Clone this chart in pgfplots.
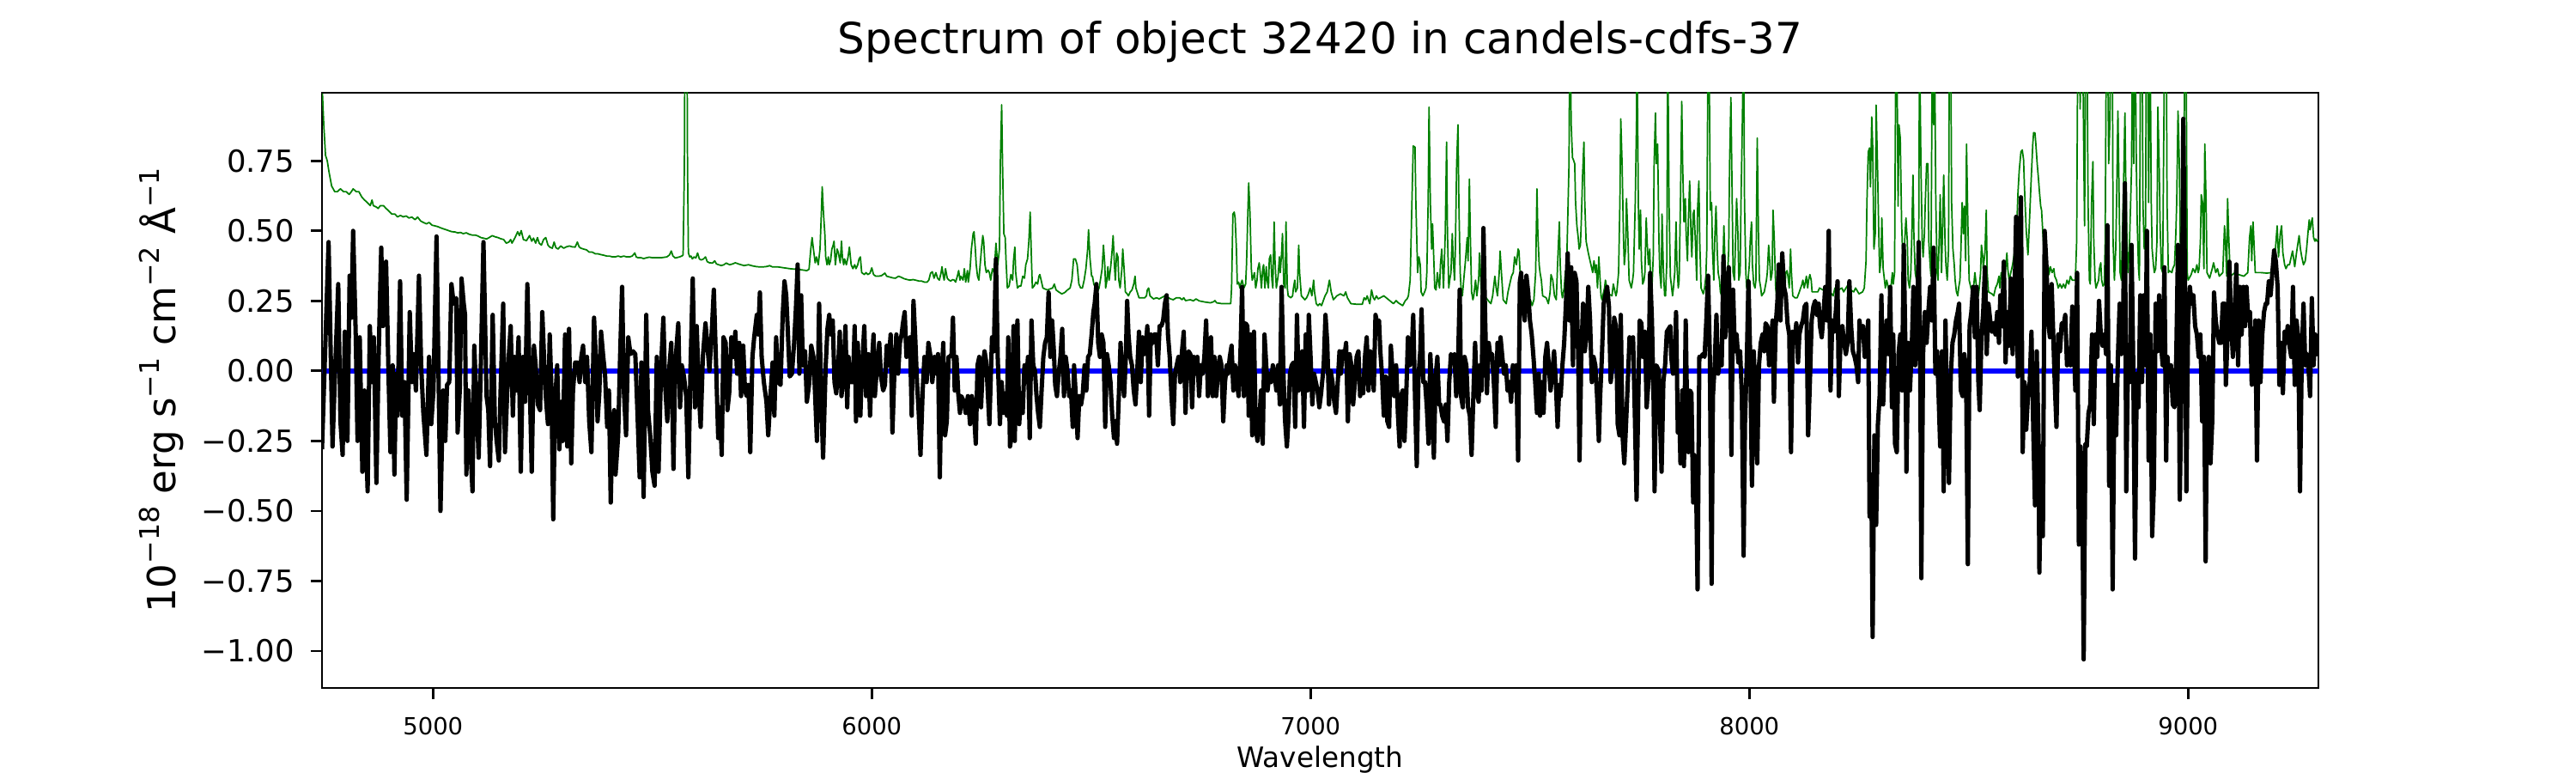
\documentclass[border=0pt]{standalone}
\usepackage{fontspec}
\setmainfont{DejaVu Sans}
\usepackage{pgfplots}
\pgfplotsset{compat=1.18}
\definecolor{mplgreen}{rgb}{0,0.5,0}
\definecolor{mplblue}{rgb}{0,0,1}
\newcommand{\su}[1]{\raisebox{0.42em}{\fontsize{9.1bp}{9.1bp}\selectfont #1}}
\begin{document}
\begin{tikzpicture}
\path[use as bounding box] (-108bp,-28.512bp) rectangle (756bp,230.688bp);
\begin{axis}[
  at={(0,0)}, anchor=south west,
  scale only axis, width=669.6bp, height=199.584bp,
  xmin=4747, xmax=9297, ymin=-1.132, ymax=0.993,
  axis line style={line width=0.8bp},
  every tick/.style={black, line width=0.8bp},
  tick align=outside, major tick length=3.8bp,
  xtick pos=bottom, ytick pos=left,
  xtick={5000,6000,7000,8000,9000},
  xticklabels={5000,6000,7000,8000,9000},
  ytick={-1,-0.75,-0.5,-0.25,0,0.25,0.5,0.75},
  yticklabels={−1.00,−0.75,−0.50,−0.25,0.00,0.25,0.50,0.75},
  xticklabel style={font=\fontsize{7.9bp}{9bp}\selectfont, inner sep=0pt, anchor=north},
  yticklabel style={font=\fontsize{10.2bp}{12bp}\selectfont, inner sep=0pt, anchor=east},
  xticklabel shift=5.7bp, yticklabel shift=5.2bp,
  title={Spectrum of object 32420 in candels-cdfs-37},
  title style={at={(axis description cs:0.5,1.0361)}, anchor=base, font=\fontsize{14.4bp}{16bp}\selectfont, inner sep=0pt},
  xlabel={Wavelength},
  xlabel style={at={(axis description cs:0.5,-0.1328)}, anchor=base, font=\fontsize{9.4bp}{11bp}\selectfont, inner sep=0pt},
  ylabel={10\su{−18} erg s\su{−1} cm\su{−2} Å\su{−1}},
  ylabel style={at={(axis description cs:-0.0735,0.5)}, anchor=base, font=\fontsize{13bp}{15bp}\selectfont, inner sep=0pt},
]
% error / sky spectrum (green)
\addplot[mplgreen, line width=0.5bp, line join=round] coordinates {
(4748,0.99) (4751,0.88) (4755,0.77) (4759,0.75) (4763,0.71) (4769,0.66) (4776,0.64) (4782,0.64) (4789,0.65) (4796,0.64) (4802,0.64) (4809,0.63) (4814,0.64) (4818,0.65) (4825,0.64) (4831,0.64) (4838,0.62) (4844,0.61) (4851,0.60) (4857,0.59) (4861,0.61) (4864,0.59) (4871,0.585) (4875,0.58) (4880,0.59) (4887,0.59) (4893,0.58) (4900,0.57) (4906,0.56) (4913,0.56) (4919,0.55) (4926,0.555) (4932,0.55) (4939,0.553) (4945,0.546) (4952,0.549) (4959,0.54) (4965,0.549) (4972,0.535) (4978,0.53) (4985,0.525) (4991,0.53) (4998,0.52) (5004,0.518) (5011,0.515) (5017,0.511) (5024,0.507) (5030,0.504) (5037,0.50) (5043,0.497) (5050,0.496) (5056,0.493) (5063,0.494) (5069,0.49) (5076,0.493) (5082,0.488) (5089,0.485) (5096,0.485) (5102,0.482) (5109,0.476) (5115,0.474) (5122,0.471) (5128,0.476) (5135,0.483) (5141,0.479) (5148,0.476) (5154,0.472) (5161,0.469) (5167,0.456) (5173,0.46) (5177,0.469) (5180,0.456) (5187,0.476) (5193,0.497) (5197,0.483) (5201,0.501) (5206,0.469) (5213,0.465) (5220,0.483) (5225,0.463) (5229,0.474) (5234,0.456) (5238,0.476) (5242,0.456) (5247,0.449) (5252,0.469) (5257,0.476) (5262,0.449) (5266,0.442) (5272,0.438) (5276,0.46) (5280,0.44) (5285,0.435) (5291,0.446) (5298,0.438) (5304,0.443) (5311,0.446) (5317,0.443) (5324,0.442) (5329,0.46) (5333,0.443) (5337,0.438) (5343,0.435) (5350,0.432) (5356,0.424) (5363,0.424) (5370,0.418) (5376,0.418) (5383,0.415) (5389,0.413) (5396,0.41) (5402,0.41) (5409,0.407) (5415,0.407) (5422,0.41) (5428,0.407) (5435,0.41) (5441,0.407) (5448,0.407) (5454,0.41) (5460,0.421) (5463,0.407) (5467,0.404) (5474,0.404) (5480,0.401) (5487,0.404) (5493,0.406) (5500,0.404)
(5520,0.404) (5533,0.407) (5539,0.414) (5543,0.428) (5547,0.41) (5552,0.403) (5562,0.407) (5568,0.411) (5570,0.414) (5573,0.74) (5575,1.6) (5578,1.6) (5580,0.74) (5582,0.421) (5585,0.407) (5588,0.41) (5591,0.40) (5595,0.407) (5599,0.403) (5603,0.421) (5607,0.40) (5611,0.396) (5616,0.399) (5621,0.407) (5625,0.39) (5630,0.386) (5637,0.385) (5642,0.393) (5646,0.382) (5651,0.379) (5657,0.376) (5663,0.379) (5668,0.385) (5676,0.379) (5683,0.382) (5689,0.386) (5696,0.382) (5702,0.379) (5709,0.376) (5719,0.379) (5728,0.375) (5738,0.372) (5748,0.371) (5758,0.372) (5764,0.374) (5767,0.376) (5774,0.371) (5787,0.371) (5800,0.368) (5813,0.365) (5826,0.363) (5839,0.361) (5852,0.358) (5857,0.363) (5861,0.435) (5864,0.476) (5867,0.435) (5871,0.386) (5874,0.407) (5878,0.379) (5882,0.435) (5885,0.56) (5887,0.657) (5890,0.56) (5893,0.49) (5895,0.407) (5898,0.379) (5901,0.407) (5903,0.379) (5906,0.393) (5909,0.435) (5912,0.449) (5914,0.463) (5917,0.379) (5921,0.435) (5924,0.421) (5928,0.386) (5931,0.463) (5933,0.407) (5936,0.379) (5938,0.40) (5942,0.379) (5946,0.407) (5949,0.442) (5953,0.379) (5957,0.365) (5961,0.379) (5964,0.365) (5968,0.379) (5971,0.40) (5974,0.407) (5977,0.351) (5983,0.344) (5987,0.351) (5991,0.344) (5996,0.349) (6000,0.368) (6004,0.344) (6009,0.338) (6015,0.338) (6022,0.34) (6030,0.349) (6034,0.338) (6041,0.335) (6048,0.332) (6054,0.331) (6061,0.338) (6066,0.335) (6074,0.329) (6081,0.326) (6087,0.324) (6094,0.326) (6100,0.324) (6107,0.321) (6113,0.321) (6120,0.317) (6126,0.317) (6130,0.324) (6134,0.349) (6138,0.354) (6142,0.331) (6146,0.351) (6150,0.331) (6154,0.324) (6158,0.351) (6160,0.372) (6163,0.338) (6165,0.324) (6168,0.365) (6172,0.331) (6176,0.324) (6180,0.321) (6184,0.326) (6188,0.324) (6191,0.317) (6195,0.338) (6198,0.358) (6201,0.324) (6203,0.338) (6206,0.331) (6208,0.324) (6211,0.365) (6214,0.317) (6218,0.358) (6220,0.317) (6224,0.365) (6227,0.435) (6231,0.49) (6233,0.497) (6236,0.435) (6238,0.379) (6241,0.338) (6244,0.324) (6247,0.379) (6250,0.435) (6253,0.483) (6255,0.463) (6258,0.379) (6261,0.351)
(6265,0.36) (6268,0.351) (6271,0.324) (6275,0.365) (6279,0.351) (6283,0.456) (6287,0.379) (6291,0.435) (6293,0.74) (6296,0.95) (6298,0.74) (6301,0.49) (6304,0.476) (6306,0.393) (6309,0.296) (6313,0.303) (6317,0.344) (6321,0.324) (6323,0.393) (6326,0.442) (6328,0.351) (6332,0.296) (6336,0.303) (6340,0.303) (6344,0.338) (6348,0.331) (6351,0.379) (6355,0.40) (6358,0.463) (6361,0.567) (6364,0.393) (6366,0.296) (6370,0.303) (6374,0.317) (6378,0.31) (6381,0.338) (6383,0.344) (6386,0.324) (6390,0.296) (6394,0.293) (6400,0.289) (6407,0.293) (6412,0.296) (6416,0.31) (6420,0.289) (6426,0.282) (6433,0.275) (6439,0.279) (6446,0.289) (6452,0.296) (6456,0.324) (6460,0.40) (6464,0.40) (6468,0.379) (6472,0.31) (6476,0.296) (6480,0.296) (6484,0.324) (6488,0.365) (6492,0.435) (6494,0.504) (6497,0.407) (6501,0.338) (6503,0.338) (6506,0.31) (6510,0.296) (6514,0.282) (6518,0.296) (6521,0.324) (6525,0.365) (6528,0.449) (6531,0.379) (6533,0.296) (6536,0.324) (6538,0.372) (6541,0.324) (6545,0.379) (6548,0.435) (6550,0.483) (6553,0.379) (6555,0.324) (6558,0.421) (6561,0.407) (6563,0.324) (6566,0.296) (6570,0.365) (6572,0.435) (6575,0.365) (6578,0.282) (6582,0.275) (6585,0.268) (6589,0.282) (6593,0.289) (6597,0.31) (6600,0.338) (6602,0.296) (6609,0.261) (6615,0.261) (6622,0.261) (6626,0.268) (6628,0.289) (6631,0.296) (6634,0.268) (6642,0.257) (6649,0.261) (6655,0.257) (6668,0.268) (6681,0.257) (6687,0.254) (6694,0.261) (6702,0.261) (6707,0.254) (6711,0.261) (6715,0.251) (6726,0.254) (6733,0.25) (6739,0.257) (6746,0.25) (6759,0.246) (6772,0.243) (6779,0.247) (6782,0.251) (6786,0.243) (6798,0.24) (6818,0.24) (6820,0.296) (6823,0.56) (6826,0.567) (6828,0.546) (6831,0.435) (6833,0.31) (6836,0.317) (6839,0.296) (6841,0.31) (6844,0.324) (6848,0.296) (6852,0.31) (6854,0.379) (6857,0.56) (6859,0.671) (6862,0.56) (6865,0.365) (6867,0.324) (6870,0.338) (6872,0.351) (6875,0.296) (6878,0.324) (6880,0.365) (6883,0.386) (6886,0.338) (6888,0.296) (6891,0.365) (6893,0.379) (6896,0.296) (6899,0.372) (6901,0.324) (6904,0.296) (6906,0.40) (6909,0.414) (6912,0.324) (6914,0.296) (6917,0.532) (6919,0.393) (6922,0.296) (6926,0.338) (6929,0.407) (6931,0.351) (6934,0.421) (6936,0.49) (6939,0.31) (6942,0.296) (6944,0.532) (6947,0.296) (6949,0.268) (6955,0.261) (6959,0.268) (6961,0.296) (6964,0.324) (6966,0.282) (6970,0.296) (6973,0.449) (6975,0.351) (6979,0.268) (6983,0.261) (6987,0.254) (6991,0.261) (6995,0.275) (6999,0.296) (7003,0.268) (7007,0.324) (7009,0.282) (7013,0.24) (7017,0.233) (7021,0.24) (7025,0.233)
(7033,0.268) (7038,0.282) (7043,0.324) (7047,0.282) (7052,0.254) (7060,0.268) (7068,0.275) (7076,0.268) (7080,0.282) (7084,0.261) (7092,0.24) (7105,0.238) (7118,0.238) (7122,0.261) (7126,0.254) (7129,0.268) (7135,0.24) (7139,0.289) (7143,0.261) (7146,0.254) (7150,0.268) (7154,0.257) (7167,0.268) (7178,0.254) (7189,0.24) (7195,0.251) (7200,0.243) (7210,0.233) (7216,0.251) (7220,0.257) (7223,0.268) (7227,0.324) (7231,0.601) (7234,0.803) (7238,0.799) (7240,0.601) (7244,0.351) (7247,0.407) (7250,0.379) (7252,0.282) (7256,0.268) (7260,0.282) (7263,0.296) (7265,0.351) (7268,0.601) (7270,0.942) (7273,0.601) (7276,0.435) (7278,0.525) (7281,0.393) (7283,0.296) (7286,0.289) (7289,0.351) (7291,0.324) (7294,0.296) (7296,0.379) (7299,0.435) (7303,0.296) (7307,0.49) (7310,0.817) (7312,0.49) (7315,0.296) (7317,0.324) (7320,0.351) (7323,0.49) (7325,0.407) (7328,0.324) (7330,0.435) (7333,0.74) (7336,0.879) (7338,0.601) (7341,0.351) (7343,0.296) (7346,0.268) (7349,0.324) (7353,0.393) (7357,0.476) (7359,0.393) (7362,0.685) (7364,0.49) (7367,0.282) (7370,0.254) (7372,0.268) (7376,0.324) (7379,0.268) (7383,0.324) (7385,0.421) (7388,0.324) (7390,0.268) (7393,0.24) (7400,0.261) (7407,0.247) (7411,0.24) (7415,0.268) (7418,0.31) (7420,0.338) (7423,0.296) (7426,0.268) (7430,0.351) (7432,0.428) (7435,0.351) (7439,0.254) (7446,0.24) (7450,0.282) (7454,0.31) (7458,0.338) (7462,0.351) (7465,0.407) (7469,0.379) (7473,0.435) (7475,0.428) (7478,0.338) (7482,0.296) (7486,0.24) (7493,0.233) (7501,0.254) (7505,0.233) (7509,0.254) (7513,0.351) (7516,0.65) (7518,0.49) (7521,0.379) (7523,0.351) (7526,0.324) (7529,0.268) (7537,0.261) (7542,0.24) (7546,0.282) (7548,0.344) (7552,0.324) (7556,0.268) (7560,0.254) (7564,0.421) (7567,0.532) (7569,0.379) (7572,0.282) (7574,0.261) (7578,0.296) (7581,0.358) (7583,0.338) (7586,0.532) (7589,0.74) (7591,1.3) (7594,0.879) (7597,0.761) (7599,0.754) (7602,0.74) (7604,0.601) (7607,0.518) (7610,0.476) (7612,0.435) (7615,0.449) (7617,0.532) (7620,0.699) (7623,0.817) (7625,0.601) (7628,0.463) (7633,0.421) (7638,0.386) (7643,0.351) (7646,0.393) (7649,0.351) (7651,0.379) (7654,0.296) (7657,0.407) (7659,0.351) (7662,0.268) (7664,0.254) (7670,0.296) (7672,0.324) (7675,0.296) (7679,0.275) (7687,0.268) (7690,0.31) (7693,0.289) (7696,0.268) (7698,0.282) (7702,0.351) (7705,0.601) (7707,0.90) (7710,0.74) (7713,0.49) (7715,0.379) (7718,0.435) (7720,0.615) (7723,0.49) (7726,0.324) (7731,0.296) (7734,0.324) (7736,0.351) (7740,0.601) (7743,0.907) (7744,1.2) (7747,0.601) (7749,0.435) (7752,0.574) (7754,0.393) (7757,0.31) (7760,0.324) (7762,0.351) (7765,0.546) (7767,0.463) (7770,0.379) (7773,0.435) (7775,0.324) (7778,0.296) (7781,0.407) (7783,0.74) (7786,0.921) (7788,0.74)
(7791,0.81) (7794,0.463) (7796,0.351) (7799,0.296) (7801,0.56) (7804,0.365) (7807,0.268) (7809,0.268) (7812,0.393) (7814,1.2) (7817,0.601) (7820,0.338) (7825,0.268) (7827,0.296) (7830,0.351) (7833,0.532) (7835,0.379) (7838,0.296) (7840,0.324) (7843,0.601) (7846,0.962) (7848,0.74) (7851,0.532) (7854,0.615) (7856,0.49) (7859,0.393) (7861,0.532) (7864,0.678) (7867,0.49) (7869,0.407) (7872,0.56) (7874,0.574) (7877,0.463) (7880,0.324) (7882,0.574) (7885,0.678) (7887,0.463) (7890,0.296) (7895,0.275) (7898,0.296) (7901,0.338) (7903,0.435) (7906,1.2) (7908,1.2) (7911,0.574) (7914,0.601) (7916,0.435) (7919,0.324) (7921,0.463) (7924,0.588) (7927,0.421) (7929,0.351) (7932,0.324) (7934,0.282) (7937,0.268) (7940,0.379) (7942,0.518) (7945,0.365) (7947,0.296) (7950,0.324) (7953,0.435) (7955,0.74) (7958,0.976) (7961,0.601) (7963,0.351) (7966,0.324) (7968,0.435) (7971,0.615) (7974,0.49) (7976,0.324) (7979,0.351) (7981,0.601) (7984,0.879) (7987,1.2) (7989,0.601) (7992,0.351) (7994,0.296) (7997,0.324) (8000,0.379) (8002,0.463) (8005,0.532) (8007,0.379) (8010,0.31) (8013,0.296) (8015,0.324) (8018,0.831) (8021,0.463) (8023,0.324) (8026,0.296) (8028,0.268) (8034,0.282) (8039,0.324) (8041,0.351) (8044,0.449) (8047,0.379) (8049,0.324) (8052,0.351) (8054,0.574) (8057,0.463) (8060,0.296) (8062,0.268) (8065,0.261) (8067,0.282) (8070,0.324) (8073,0.338) (8075,0.407) (8078,0.324) (8081,0.282) (8083,0.351) (8086,0.358) (8088,0.338) (8091,0.296) (8094,0.435) (8096,0.351) (8099,0.268) (8104,0.261) (8109,0.261) (8114,0.282) (8120,0.31) (8122,0.324) (8125,0.296) (8127,0.31) (8130,0.338) (8133,0.296) (8135,0.324) (8138,0.344) (8141,0.324) (8143,0.282) (8148,0.282) (8156,0.282) (8160,0.296) (8168,0.289) (8176,0.275) (8180,0.296) (8184,0.282) (8191,0.268) (8195,0.296) (8203,0.289) (8211,0.296) (8215,0.282) (8223,0.303) (8231,0.289) (8238,0.282) (8242,0.296) (8250,0.275) (8258,0.282) (8262,0.296) (8266,0.393) (8268,0.601) (8271,0.782) (8274,0.796) (8276,0.657) (8279,0.907) (8281,0.81) (8284,0.435) (8287,0.49) (8289,0.949) (8292,0.74) (8295,0.49) (8297,0.351) (8300,0.393) (8302,0.546) (8305,0.365) (8308,0.324) (8310,0.296) (8313,0.324) (8318,0.289) (8321,0.282) (8323,0.303) (8326,0.351) (8328,0.31) (8331,0.351) (8334,1.2) (8336,1.2) (8339,0.588) (8341,0.879) (8344,0.831) (8347,0.532) (8349,0.435) (8352,0.324) (8354,0.463) (8357,0.546) (8360,0.463) (8362,0.324) (8365,0.296) (8368,0.351) (8370,0.463) (8373,0.699) (8375,0.49) (8378,0.351) (8381,0.324) (8383,0.379) (8386,0.463) (8388,1.2) (8391,0.74) (8394,0.463) (8396,0.407) (8399,0.49) (8401,0.601) (8404,0.74) (8407,0.74) (8409,0.463) (8412,0.379) (8414,0.338) (8417,1.2) (8420,0.879) (8422,1.2) (8425,0.601) (8428,0.351) (8430,0.324) (8433,0.49) (8435,0.629) (8438,0.351) (8441,0.546) (8443,0.699) (8446,0.463) (8448,0.379) (8451,0.324) (8454,0.435) (8456,1.2) (8459,1.2) (8461,0.601) (8464,0.435) (8467,0.379) (8469,0.324) (8472,0.282) (8475,0.268) (8477,0.296) (8480,0.324) (8482,0.421) (8485,0.601) (8488,0.49) (8490,0.588) (8493,0.393) (8495,0.81) (8498,0.532) (8501,0.324) (8506,0.289) (8511,0.296) (8514,0.351) (8516,0.324) (8519,0.282) (8522,0.268) (8524,0.296) (8527,0.351) (8529,0.449) (8532,0.407)
(8533,0.365) (8537,0.421) (8540,0.574) (8542,0.351) (8545,0.282) (8553,0.275) (8557,0.268) (8561,0.296) (8565,0.31) (8569,0.338) (8571,0.296) (8574,0.351) (8576,0.338) (8580,0.296) (8584,0.365) (8587,0.421) (8589,0.365) (8592,0.324) (8596,0.351) (8600,0.379) (8604,0.421) (8606,0.435) (8609,0.49) (8612,0.629) (8615,0.713) (8619,0.782) (8622,0.789) (8625,0.754) (8627,0.657) (8631,0.504) (8635,0.414) (8638,0.518) (8642,0.671) (8646,0.81) (8648,0.851) (8651,0.849) (8653,0.81) (8656,0.74) (8659,0.685) (8661,0.643) (8664,0.588) (8666,0.574) (8669,0.49) (8672,0.407) (8674,0.365) (8677,0.351) (8681,0.372) (8683,0.344) (8686,0.372) (8690,0.351) (8694,0.365) (8696,0.338) (8700,0.324) (8704,0.296) (8708,0.31) (8712,0.296) (8716,0.31) (8720,0.296) (8724,0.324) (8728,0.31) (8732,0.338) (8736,0.324) (8743,0.324) (8746,0.463) (8749,1.3) (8751,1.3) (8754,0.935) (8756,1.3) (8759,1.3) (8762,0.81) (8764,0.518) (8767,1.3) (8769,1.3) (8772,0.601) (8775,0.324) (8777,0.31) (8780,0.601) (8783,0.747) (8785,0.463) (8788,0.324) (8790,0.296) (8796,0.324) (8798,0.365) (8801,0.386) (8803,0.324) (8806,0.303) (8809,0.31) (8811,0.463) (8814,1.3) (8816,1.3) (8819,0.74) (8822,0.907) (8824,1.3) (8827,1.3) (8829,0.463) (8832,0.324) (8835,0.435) (8837,0.601) (8840,0.928) (8843,0.601) (8845,0.351) (8848,0.324) (8850,0.463) (8853,0.671) (8856,0.921) (8858,0.671) (8861,0.435) (8863,0.351) (8866,0.435) (8869,0.601) (8871,0.719) (8874,1.3) (8876,0.74) (8879,1.3) (8882,0.74) (8884,0.532) (8887,0.365) (8889,0.324) (8892,1.3) (8895,1.3) (8897,0.601) (8900,0.435) (8903,0.518) (8905,1.3) (8908,1.3) (8910,0.601) (8913,1.3) (8916,0.601) (8918,0.435) (8921,0.379) (8923,0.351) (8926,0.365) (8929,0.463) (8931,0.942) (8934,0.74) (8936,0.532) (8939,0.365) (8942,0.351) (8944,0.74) (8947,1.3) (8950,1.3) (8952,0.601) (8955,0.351) (8957,0.358) (8963,0.351) (8965,0.365) (8969,0.379) (8972,0.49) (8974,0.601) (8977,0.928) (8980,0.74) (8982,0.463) (8985,0.324) (8987,0.365) (8990,0.601) (8993,1.3) (8995,1.3) (8998,0.351) (9000,0.324) (9007,0.344) (9011,0.365) (9016,0.351) (9020,0.379) (9023,0.351) (9025,0.365) (9028,0.463) (9030,0.629) (9033,0.601) (9036,0.365) (9038,0.81) (9041,0.601) (9043,0.351) (9049,0.331) (9055,0.365) (9058,0.386) (9060,0.372) (9063,0.351) (9067,0.365) (9071,0.338) (9079,0.351) (9083,0.518) (9085,0.463) (9088,0.338) (9090,0.615) (9093,0.463) (9096,0.338) (9107,0.351) (9115,0.344) (9127,0.338) (9136,0.351) (9140,0.476) (9143,0.518) (9145,0.393) (9148,0.532) (9150,0.463) (9153,0.351) (9166,0.351) (9179,0.349) (9191,0.351) (9195,0.365) (9199,0.435) (9203,0.518) (9206,0.407) (9210,0.49) (9213,0.518) (9216,0.421) (9220,0.379) (9223,0.365) (9227,0.379) (9231,0.379) (9235,0.407) (9238,0.428) (9240,0.407) (9243,0.372) (9247,0.421) (9251,0.463) (9253,0.483) (9256,0.435) (9259,0.407) (9263,0.379) (9267,0.393) (9270,0.435) (9273,0.49) (9276,0.539) (9278,0.504) (9281,0.532) (9283,0.546) (9286,0.476) (9289,0.463) (9291,0.471) (9294,0.463) (9297,0.47)
};
% model / zero line (blue)
\addplot[mplblue, line width=1.75bp] coordinates {(4747,0) (9297,0)};
% spectrum (black)
\addplot[black, line width=1.45bp, line join=round] coordinates {
(4747,-0.28) (4762,0.46) (4771,-0.27) (4776,-0.04) (4784,0.31) (4789,-0.18) (4794,-0.30) (4799,0.14) (4805,-0.25) (4810,0.34) (4814,0.19) (4818,0.50) (4824,0.12) (4828,-0.25) (4833,0.12) (4839,-0.36) (4844,-0.07) (4851,-0.43) (4856,0.16) (4861,-0.04) (4865,0.12) (4871,-0.40) (4876,0.05) (4882,0.44) (4886,0.16) (4889,0.37) (4893,0.39) (4899,-0.04) (4903,-0.29) (4908,0.02) (4912,-0.37) (4916,-0.01) (4919,-0.16) (4925,0.32) (4930,-0.16) (4935,-0.04) (4940,-0.46) (4947,0.21) (4952,-0.04) (4956,0.06) (4961,-0.07) (4968,0.34) (4973,0.02) (4978,-0.15) (4985,-0.30) (4991,0.05) (4996,-0.19) (5001,-0.07) (5008,0.48) (5012,0.05) (5017,-0.50) (5023,-0.07) (5028,-0.25) (5032,-0.05) (5037,-0.04) (5042,0.31) (5047,0.24) (5053,0.26) (5056,-0.22) (5061,-0.07) (5065,0.33) (5070,0.24) (5073,0.20) (5076,-0.37) (5081,-0.07) (5086,-0.30) (5090,-0.43) (5094,0.09) (5100,-0.14) (5104,-0.31) (5109,0.02) (5115,0.46) (5122,-0.09) (5126,-0.14) (5130,-0.34) (5136,0.20) (5141,-0.18) (5145,-0.25) (5150,-0.32) (5154,-0.07) (5160,0.24) (5164,-0.29) (5169,-0.08) (5173,0.06) (5177,0.16) (5182,-0.16) (5186,0.05) (5190,-0.07) (5195,0.12) (5200,-0.36) (5205,0.05) (5210,-0.11) (5215,0.31) (5219,0.06) (5225,-0.36) (5230,0.09) (5234,0.02) (5239,-0.12) (5244,-0.14) (5249,0.21) (5253,0.05) (5257,-0.09) (5262,-0.19) (5266,0.13) (5270,-0.07) (5274,-0.53) (5278,-0.12) (5283,0.02) (5288,-0.28) (5293,-0.11) (5296,-0.25) (5301,0.13) (5306,-0.27) (5310,0.15) (5315,-0.33) (5319,-0.07) (5324,0.03) (5329,0.03) (5334,-0.04) (5338,0.05) (5342,0.09) (5347,-0.04) (5351,0.05) (5356,-0.18) (5361,-0.29) (5367,0.19) (5371,0.05) (5375,-0.18) (5379,-0.08) (5383,0.14) (5388,0.05) (5392,-0.01) (5397,-0.20) (5401,-0.07) (5405,-0.47) (5409,-0.19) (5413,-0.14) (5416,-0.37) (5422,-0.23) (5426,0.03) (5431,0.30) (5435,-0.07) (5440,-0.23) (5445,0.12) (5450,0.06) (5456,0.07) (5461,0.06) (5466,-0.15) (5471,-0.38) (5475,0.03) (5480,-0.45) (5486,0.20) (5490,-0.14) (5495,-0.23) (5500,-0.36)
(5505,-0.41) (5510,0.05) (5514,-0.36) (5520,0.02) (5525,0.19) (5529,-0.05) (5534,-0.18) (5539,0.02) (5543,0.10) (5548,-0.35) (5552,0.02) (5559,0.17) (5563,-0.13) (5567,0.02) (5572,-0.02) (5577,-0.09) (5582,-0.38) (5587,0.02) (5592,0.33) (5597,-0.13) (5601,0.16) (5606,-0.08) (5610,-0.20) (5615,0.05) (5621,0.17) (5625,0.10) (5630,0.00) (5636,0.16) (5640,0.29) (5645,0.03) (5650,-0.24) (5654,-0.13) (5658,-0.30) (5662,0.12) (5667,0.10) (5671,-0.14) (5675,-0.08) (5680,0.12) (5685,0.05) (5689,0.14) (5693,-0.01) (5698,0.10) (5702,-0.09) (5707,0.09) (5711,-0.07) (5715,-0.09) (5719,-0.05) (5723,-0.29) (5728,0.05) (5732,0.12) (5738,0.20) (5741,0.13) (5745,0.28) (5749,0.05) (5754,-0.04) (5760,-0.11) (5764,-0.23) (5769,-0.09) (5774,0.03) (5778,-0.16) (5782,0.12) (5787,-0.04) (5792,-0.05) (5797,0.20) (5801,0.32) (5805,0.27) (5809,0.13) (5813,-0.02) (5818,-0.01) (5823,0.10) (5827,0.22) (5831,0.38) (5835,-0.01) (5839,0.27) (5843,0.02) (5848,0.07) (5852,-0.11) (5857,-0.05) (5862,0.09) (5867,0.05) (5871,-0.09) (5875,-0.25) (5880,0.24) (5885,-0.11) (5889,-0.31) (5895,0.02) (5899,0.15) (5903,0.20) (5907,0.13) (5911,0.18) (5915,-0.04) (5919,-0.08) (5923,0.00) (5927,0.14) (5931,-0.09) (5936,0.00) (5940,0.16) (5944,-0.13) (5947,0.05) (5951,-0.04) (5957,-0.04) (5961,0.16) (5964,-0.18) (5968,0.10) (5974,-0.16) (5977,-0.01) (5983,0.16) (5987,-0.09) (5992,0.06) (5996,-0.16) (6000,0.02) (6004,0.13) (6007,-0.09) (6012,0.02) (6017,0.10) (6021,-0.02) (6026,-0.07) (6030,-0.05) (6034,0.09) (6038,0.02) (6043,0.13) (6047,-0.22) (6052,0.02) (6056,0.13) (6060,-0.01) (6064,0.10) (6068,0.13) (6071,0.17) (6075,0.21) (6079,0.05) (6083,0.10) (6087,0.12) (6091,-0.16) (6095,0.25) (6099,0.12) (6103,-0.04) (6107,-0.15) (6111,-0.30) (6116,-0.07) (6120,0.05) (6125,-0.04) (6129,0.10) (6134,0.05) (6138,-0.04) (6143,0.05) (6147,-0.01) (6151,0.06) (6155,-0.38) (6159,-0.02) (6163,0.10) (6167,-0.23) (6171,-0.18) (6175,0.05) (6178,0.05) (6182,0.06) (6185,0.19) (6189,-0.07) (6193,0.05) (6197,-0.08) (6201,-0.15) (6204,-0.09) (6210,-0.11) (6214,-0.15) (6219,-0.09) (6224,-0.19) (6228,-0.09) (6232,-0.12) (6237,-0.26) (6241,0.02) (6245,0.05) (6249,-0.13) (6253,0.02) (6257,0.07) (6261,0.03)
(6268,-0.19) (6274,0.12) (6278,0.07) (6283,0.40) (6287,0.05) (6292,-0.19) (6296,-0.04) (6300,-0.15) (6304,-0.08) (6308,-0.16) (6311,0.12) (6315,-0.27) (6319,-0.23) (6323,0.16) (6326,-0.25) (6328,0.05) (6332,0.18) (6336,-0.19) (6340,-0.08) (6344,-0.15) (6348,0.02) (6352,-0.04) (6356,0.05) (6360,-0.24) (6364,0.18) (6368,0.02) (6372,0.00) (6375,-0.08) (6379,-0.15) (6383,-0.20) (6387,-0.07) (6391,0.05) (6395,0.10) (6399,0.12) (6403,0.28) (6407,0.05) (6411,0.18) (6415,0.07) (6418,-0.05) (6422,-0.09) (6426,-0.01) (6430,0.05) (6434,0.15) (6438,-0.09) (6442,0.05) (6446,0.00) (6450,-0.09) (6454,-0.07) (6458,-0.20) (6461,0.02) (6465,-0.09) (6469,-0.24) (6473,-0.09) (6477,-0.12) (6481,-0.08) (6485,0.02) (6489,-0.07) (6493,0.05) (6497,0.06) (6501,0.13) (6505,0.21) (6508,0.24) (6512,0.31) (6516,0.10) (6520,0.05) (6524,0.13) (6528,0.10) (6532,-0.20) (6536,0.06) (6540,0.02) (6544,-0.04) (6548,-0.16) (6552,-0.24) (6555,-0.18) (6559,-0.26) (6563,-0.09) (6567,0.10) (6571,-0.02) (6575,-0.09) (6579,0.05) (6582,0.25) (6585,0.13) (6589,0.05) (6593,0.02) (6597,-0.07) (6601,-0.12) (6605,0.00) (6609,0.14) (6613,-0.04) (6617,0.12) (6621,0.06) (6625,0.10) (6628,0.16) (6632,-0.16) (6636,0.13) (6640,0.10) (6644,0.13) (6648,0.13) (6652,0.02) (6656,0.16) (6660,0.16) (6664,0.18) (6668,0.24) (6672,0.27) (6675,0.13) (6679,0.05) (6683,-0.09) (6687,-0.19) (6691,-0.01) (6695,0.02) (6699,0.05) (6703,-0.04) (6707,0.07) (6711,0.14) (6715,-0.15) (6719,0.05) (6722,0.07) (6726,0.06) (6730,-0.13) (6734,0.05) (6738,-0.01) (6742,0.05) (6746,-0.09) (6750,0.02) (6754,-0.01) (6758,0.05) (6762,0.18) (6766,-0.09) (6769,0.05) (6773,0.12) (6777,-0.09) (6781,0.05) (6785,-0.09) (6789,-0.01) (6793,0.05) (6797,0.02) (6801,-0.18) (6805,-0.04) (6809,0.02) (6812,-0.01) (6816,0.05) (6820,0.09) (6824,-0.07) (6828,0.02) (6832,-0.04) (6836,-0.09) (6840,0.05) (6844,0.30) (6848,-0.09) (6852,0.17) (6856,0.16) (6859,-0.16) (6863,0.13) (6867,-0.23) (6871,0.14) (6875,-0.20) (6879,-0.25) (6883,-0.19) (6887,-0.07) (6891,-0.26) (6895,0.13) (6899,0.02) (6902,-0.07) (6906,-0.01) (6910,-0.04) (6914,0.02) (6918,-0.01) (6922,-0.07) (6926,0.02) (6930,-0.12) (6934,0.30) (6938,0.00) (6942,-0.18) (6946,-0.27) (6949,-0.19) (6953,-0.01) (6957,0.02) (6961,0.03) (6965,-0.20) (6969,0.20) (6973,-0.07) (6977,-0.01) (6981,0.07) (6985,-0.20) (6989,0.13) (6993,-0.07) (6996,0.20) (7000,0.05) (7004,-0.12) (7008,-0.01) (7012,-0.04) (7016,-0.07) (7020,-0.13) (7024,-0.08)
(7030,0.02) (7034,0.20) (7038,0.10) (7042,-0.12) (7046,0.00) (7050,-0.04) (7054,-0.11) (7058,-0.15) (7062,-0.04) (7066,0.07) (7069,-0.01) (7073,0.07) (7077,0.05) (7081,0.10) (7085,-0.18) (7089,0.06) (7093,0.02) (7097,-0.12) (7101,-0.04) (7105,0.05) (7109,0.07) (7113,-0.09) (7116,-0.04) (7120,-0.08) (7124,0.05) (7128,0.12) (7132,-0.07) (7136,0.07) (7140,0.05) (7144,-0.07) (7148,0.20) (7152,0.17) (7156,0.18) (7159,0.07) (7163,-0.02) (7167,-0.16) (7171,-0.02) (7175,-0.18) (7179,-0.20) (7183,0.09) (7187,-0.01) (7191,-0.09) (7195,0.02) (7199,-0.15) (7203,-0.27) (7206,-0.09) (7210,-0.07) (7214,-0.25) (7218,-0.09) (7222,0.12) (7226,0.02) (7230,0.05) (7234,0.20) (7238,-0.09) (7242,-0.34) (7246,-0.02) (7250,0.07) (7253,0.22) (7257,-0.04) (7261,-0.04) (7265,-0.13) (7269,-0.26) (7273,0.06) (7277,-0.09) (7281,-0.31) (7285,-0.02) (7289,0.05) (7293,-0.12) (7296,-0.12) (7300,-0.16) (7304,-0.18) (7308,-0.12) (7312,-0.25) (7316,-0.04) (7320,0.06) (7324,0.05) (7328,0.06) (7332,-0.09) (7336,0.02) (7340,0.29) (7343,-0.09) (7347,-0.13) (7351,0.05) (7355,0.02) (7359,-0.13) (7363,-0.16) (7367,-0.30) (7371,-0.09) (7375,0.10) (7379,-0.07) (7383,-0.11) (7386,0.02) (7390,-0.07) (7394,0.51) (7398,0.18) (7402,-0.08) (7406,0.10) (7410,0.05) (7414,0.06) (7418,-0.05) (7422,-0.20) (7426,0.10) (7430,0.02) (7433,0.12) (7437,0.05) (7441,-0.01) (7445,0.02) (7449,-0.07) (7453,-0.04) (7457,-0.11) (7461,0.02) (7465,-0.07) (7469,0.02) (7473,-0.32) (7477,0.32) (7480,0.35) (7484,0.24) (7488,0.18) (7492,0.34) (7496,0.28) (7500,0.18) (7504,0.13) (7508,0.05) (7512,-0.04) (7516,-0.15) (7520,-0.01) (7523,-0.16) (7527,-0.04) (7531,-0.15) (7535,0.05) (7539,0.10) (7543,0.02) (7547,-0.07) (7551,-0.01) (7555,0.07) (7559,-0.04) (7563,-0.20) (7567,-0.05) (7570,-0.09) (7574,0.02) (7578,0.10) (7582,0.24) (7586,0.42) (7590,0.18) (7594,0.37) (7598,0.02) (7602,0.35) (7606,0.32) (7610,0.05) (7613,-0.32) (7617,0.05) (7621,0.24) (7625,0.07) (7629,0.13) (7633,0.30) (7637,0.18) (7641,-0.04) (7645,0.05) (7649,0.02) (7653,-0.09) (7657,-0.25) (7660,-0.09) (7664,0.05) (7668,0.24) (7672,0.27) (7676,0.30) (7680,0.23) (7684,-0.04) (7688,0.02) (7692,0.19) (7696,0.16) (7700,-0.19) (7704,-0.23) (7707,0.20) (7711,-0.23) (7715,-0.33) (7719,-0.19) (7723,-0.04) (7727,0.12) (7731,0.07) (7735,0.12) (7739,-0.15) (7743,-0.46) (7747,-0.09) (7750,0.18) (7754,0.17) (7758,0.05) (7762,0.14) (7766,-0.13) (7770,-0.04) (7774,0.35) (7778,0.18) (7782,-0.12) (7784,-0.43) (7788,0.02)
(7794,0.00) (7796,-0.16) (7800,-0.36) (7804,-0.04) (7808,0.02) (7812,0.14) (7816,0.15) (7820,0.16) (7822,0.05) (7826,-0.01) (7830,0.02) (7833,0.21) (7837,-0.22) (7840,-0.12) (7843,-0.33) (7847,-0.07) (7851,-0.34) (7855,0.18) (7859,-0.23) (7861,-0.29) (7865,-0.07) (7868,-0.08) (7872,-0.47) (7874,-0.30) (7878,-0.32) (7882,-0.78) (7886,0.05) (7890,0.05) (7894,0.06) (7898,0.05) (7902,0.18) (7906,0.34) (7910,0.05) (7914,-0.76) (7917,-0.09) (7921,0.02) (7925,0.20) (7929,-0.01) (7933,0.05) (7937,0.02) (7941,0.41) (7945,0.12) (7949,0.24) (7953,0.37) (7957,0.13) (7959,-0.30) (7963,0.29) (7967,0.07) (7971,0.13) (7975,0.03) (7979,0.07) (7983,-0.09) (7987,-0.66) (7990,-0.19) (7994,0.02) (7998,0.32) (8002,0.05) (8006,-0.41) (8010,0.07) (8014,-0.09) (8018,-0.33) (8022,0.02) (8026,0.10) (8030,0.13) (8034,0.07) (8037,0.17) (8041,0.16) (8045,0.02) (8049,0.10) (8053,0.18) (8056,-0.11) (8060,0.16) (8064,0.25) (8067,0.38) (8071,0.18) (8075,0.42) (8079,0.30) (8083,0.27) (8087,0.17) (8091,0.13) (8095,-0.29) (8099,0.14) (8103,0.10) (8107,0.17) (8111,0.03) (8114,0.13) (8118,0.16) (8122,0.18) (8126,0.23) (8130,0.24) (8134,-0.23) (8138,-0.04) (8142,0.18) (8146,0.23) (8150,0.25) (8154,0.20) (8158,0.24) (8161,0.16) (8165,0.12) (8169,0.20) (8173,0.30) (8177,0.18) (8181,0.50) (8185,-0.07) (8189,0.18) (8193,0.14) (8197,0.21) (8201,0.32) (8204,-0.09) (8208,0.12) (8212,0.16) (8216,0.10) (8220,0.06) (8224,0.10) (8228,0.32) (8232,0.16) (8236,0.07) (8240,0.05) (8244,0.02) (8248,-0.04) (8251,0.18) (8255,0.12) (8259,0.16) (8263,0.05) (8267,0.10) (8271,0.18) (8274,-0.52) (8278,-0.37) (8281,-0.95) (8285,-0.23) (8289,-0.55) (8293,-0.19) (8297,-0.09) (8301,0.27) (8305,-0.12) (8309,0.07) (8313,0.18) (8317,0.06) (8321,0.30) (8325,-0.13) (8328,0.13) (8332,-0.26) (8336,-0.29) (8340,0.06) (8344,0.13) (8348,-0.07) (8352,0.45) (8356,0.05) (8358,-0.36) (8362,0.10) (8366,-0.07) (8370,0.07) (8374,0.30) (8378,0.02) (8382,0.13) (8386,0.46) (8390,-0.09) (8392,-0.74) (8396,0.06) (8400,0.21) (8404,0.10) (8408,0.21) (8412,0.30) (8416,0.18) (8420,0.44) (8424,-0.01) (8428,0.07) (8431,-0.07) (8435,-0.27) (8439,0.07) (8443,-0.43) (8447,0.18) (8451,-0.20) (8455,-0.40) (8459,-0.02) (8463,0.10) (8467,0.13) (8471,0.18) (8475,0.21) (8478,0.24) (8482,-0.07) (8486,-0.09) (8490,0.06) (8494,-0.01) (8498,-0.69) (8502,0.16) (8506,0.21) (8510,0.30) (8514,0.12) (8518,0.30) (8522,-0.04) (8525,-0.14) (8529,0.12) (8533,0.21)
(8537,0.37) (8541,0.06) (8545,0.24) (8549,0.18) (8553,0.14) (8557,0.17) (8561,0.13) (8565,0.21) (8569,0.10) (8572,0.27) (8576,0.16) (8580,0.39) (8584,0.03) (8588,0.21) (8592,0.09) (8596,0.33) (8600,0.06) (8604,0.23) (8608,0.55) (8612,-0.02) (8615,0.37) (8619,0.62) (8623,-0.29) (8627,-0.04) (8631,-0.21) (8635,-0.09) (8639,-0.04) (8643,0.14) (8647,-0.20) (8651,-0.48) (8655,0.07) (8659,-0.23) (8661,-0.72) (8665,-0.27) (8669,-0.59) (8673,0.50) (8677,0.38) (8681,0.18) (8685,0.12) (8689,0.31) (8692,0.16) (8696,-0.04) (8700,-0.20) (8704,0.13) (8708,0.07) (8712,0.17) (8716,0.16) (8720,0.20) (8724,0.02) (8728,0.05) (8732,0.02) (8736,0.23) (8739,0.13) (8743,-0.07) (8747,0.35) (8751,-0.62) (8755,-0.27) (8759,-0.48) (8762,-1.03) (8766,-0.26) (8769,-0.27) (8773,-0.15) (8777,-0.12) (8781,0.13) (8785,-0.19) (8789,0.13) (8793,0.05) (8797,0.25) (8801,0.13) (8805,0.09) (8809,0.13) (8813,0.06) (8816,0.52) (8820,-0.41) (8824,0.02) (8828,-0.78) (8832,-0.05) (8836,-0.23) (8840,0.05) (8844,0.24) (8848,0.06) (8852,0.21) (8856,0.67) (8859,-0.43) (8863,0.05) (8867,-0.04) (8871,0.45) (8875,0.02) (8879,-0.67) (8883,-0.01) (8887,-0.13) (8891,0.27) (8895,-0.04) (8899,0.27) (8903,0.02) (8906,0.50) (8910,-0.32) (8914,0.13) (8918,-0.59) (8922,-0.41) (8926,0.24) (8930,0.07) (8934,0.27) (8938,0.10) (8942,0.02) (8946,0.37) (8950,-0.32) (8953,0.05) (8957,-0.04) (8961,0.02) (8965,-0.12) (8969,-0.13) (8973,0.05) (8977,0.45) (8981,-0.46) (8985,-0.04) (8989,0.90) (8993,0.30) (8996,-0.43) (9000,0.18) (9004,0.30) (9008,0.24) (9012,0.27) (9016,0.16) (9020,0.13) (9024,0.05) (9028,0.13) (9032,-0.18) (9036,0.05) (9040,-0.68) (9043,-0.07) (9047,0.05) (9051,-0.33) (9055,-0.18) (9059,0.28) (9063,0.18) (9067,0.13) (9071,0.10) (9075,0.10) (9079,0.24) (9083,0.24) (9086,-0.05) (9090,0.13) (9094,0.39) (9098,0.18) (9102,0.05) (9106,0.18) (9110,0.38) (9114,0.02) (9118,0.30) (9122,0.13) (9126,0.30) (9130,0.16) (9133,0.30) (9137,0.18) (9141,0.21) (9145,-0.05) (9149,-0.04) (9153,0.18) (9157,-0.32) (9161,0.18) (9165,-0.04) (9169,0.13) (9173,0.21) (9177,0.24) (9180,0.24) (9184,0.32) (9188,0.27) (9192,0.35) (9196,0.43) (9200,0.39) (9204,0.30) (9208,-0.05) (9212,0.10) (9216,-0.08) (9220,0.14) (9223,0.10) (9227,0.16) (9231,0.09) (9235,0.05) (9239,0.30) (9243,-0.05) (9247,0.18) (9251,0.12) (9255,-0.43) (9259,0.05) (9263,0.24) (9267,0.02) (9270,0.06) (9274,0.02) (9278,-0.09) (9282,0.26) (9286,0.02) (9290,0.13) (9294,0.06) (9297,0.10)
};
\end{axis}
\end{tikzpicture}
\end{document}
